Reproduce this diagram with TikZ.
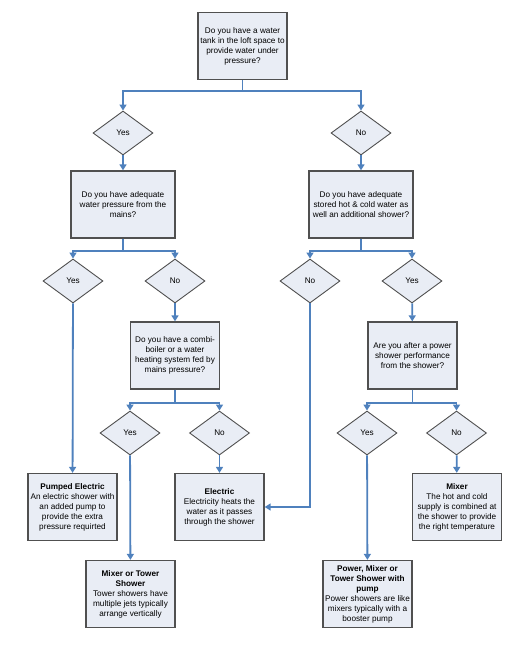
\documentclass[tikz,border=0pt]{standalone}
\usepackage{fontspec}
\setmainfont{Liberation Sans}
\usetikzlibrary{shapes.geometric}
\usetikzlibrary{arrows.meta}

\definecolor{flowblue}{RGB}{79,129,189}
\definecolor{boxfill}{RGB}{233,237,245}
\definecolor{boxline}{RGB}{80,80,80}

\begin{document}
\begin{tikzpicture}[x=1pt, y=-1pt, >={Triangle[width=7pt,length=6pt]},
    every node/.style={font=\fontsize{8.2}{10}\selectfont, align=center},
    qbox/.style={draw=boxline, line width=1.3pt, fill=boxfill, inner sep=1pt,
      minimum width=89pt, minimum height=67pt},
    ans/.style={diamond, draw=boxline, line width=0.9pt, fill=boxfill, inner sep=0pt,
      aspect=1.36, minimum width=60pt, minimum height=44pt},
    flow/.style={->, draw=flowblue, line width=1.8pt}]
      \useasboundingbox (0,0) rectangle (530,645);

      % questions
      \node at (242.5,46) [qbox, name=q1]
      {Do you have a water\\tank in the loft space to\\provide water under\\pressure?};

      \node at (123,204.5) [qbox, minimum width=104pt, name=q2]
      {Do you have adequate\\water pressure from the\\mains?};

      \node at (361,204.5) [qbox, minimum width=104pt, name=q3]
      {Do you have adequate\\stored hot \& cold water as\\well an additional shower?};

      \node at (175,355.5) [qbox, name=q4]
      {Do you have a combi-\\boiler or a water\\heating system fed by\\mains pressure?};

      \node at (412.5,355.5) [qbox, name=q5]
      {Are you after a power\\shower performance\\from the shower?};

      % answers
      \node at (123,133) [ans, name=a1yes] {Yes};
      \node at (361,133) [ans, name=a1no] {No};

      \node at (73,281) [ans, name=a2yes] {Yes};
      \node at (175,281) [ans, name=a2no] {No};
      \node at (310,281) [ans, name=a3no] {No};
      \node at (412,281) [ans, name=a3yes] {Yes};

      \node at (130,433) [ans, name=a4yes] {Yes};
      \node at (219.5,433) [ans, name=a4no] {No};
      \node at (367,433) [ans, name=a5yes] {Yes};
      \node at (456.5,433) [ans, name=a5no] {No};

      % showers
      \node at (72.5,507) [qbox, name=pumped]
      {\textbf{Pumped Electric}\\An electric shower with\\an added pump to\\provide the extra\\pressure requirted};

      \node at (219.5,507) [qbox, name=electric]
      {\textbf{Electric}\\Electricity heats the\\water as it passes\\through the shower};

      \node at (457,507) [qbox, name=mixer]
      {\textbf{Mixer}\\The hot and cold\\supply is combined at\\the shower to provide\\the right temperature};

      \node at (130.5,594) [qbox, name=tower]
      {\textbf{Mixer or Tower}\\\textbf{Shower}\\Tower showers have\\multiple jets typically\\arrange vertically};

      \node at (367.5,594) [qbox, name=power]
      {\textbf{Power, Mixer or}\\\textbf{Tower Shower with}\\\textbf{pump}\\Power showers are like\\mixers typically with a\\booster pump};

      \draw [flow] (q1.south) -- ++(0,11) -| (a1yes.north);
      \draw [flow] (q1.south) -- ++(0,11) -| (a1no.north);
      \draw [flow] (a1yes) -- (q2);
      \draw [flow] (a1no) -- (q3);

      \draw [flow] (q2.south) -- ++(0,12) -| (a2yes.north);
      \draw [flow] (q2.south) -- ++(0,12) -| (a2no.north);
      \draw [flow] (q3.south) -- ++(0,12) -| (a3no.north);
      \draw [flow] (q3.south) -- ++(0,12) -| (a3yes.north);

      \draw [flow] (a2yes) -- (pumped);
      \draw [flow] (a2no) -- (q4);
      \draw [flow] (a3no.south) |- (electric.east);
      \draw [flow] (a3yes) -- (q5);

      \draw [flow] (q4.south) -- ++(0,13) -| (a4yes.north);
      \draw [flow] (q4.south) -- ++(0,13) -| (a4no.north);
      \draw [flow] (q5.south) -- ++(0,13) -| (a5yes.north);
      \draw [flow] (q5.south) -- ++(0,13) -| (a5no.north);

      \draw [flow] (a4yes) -- (tower);
      \draw [flow] (a4no) -- (electric);
      \draw [flow] (a5yes) -- (power);
      \draw [flow] (a5no) -- (mixer);
\end{tikzpicture}
\end{document}
